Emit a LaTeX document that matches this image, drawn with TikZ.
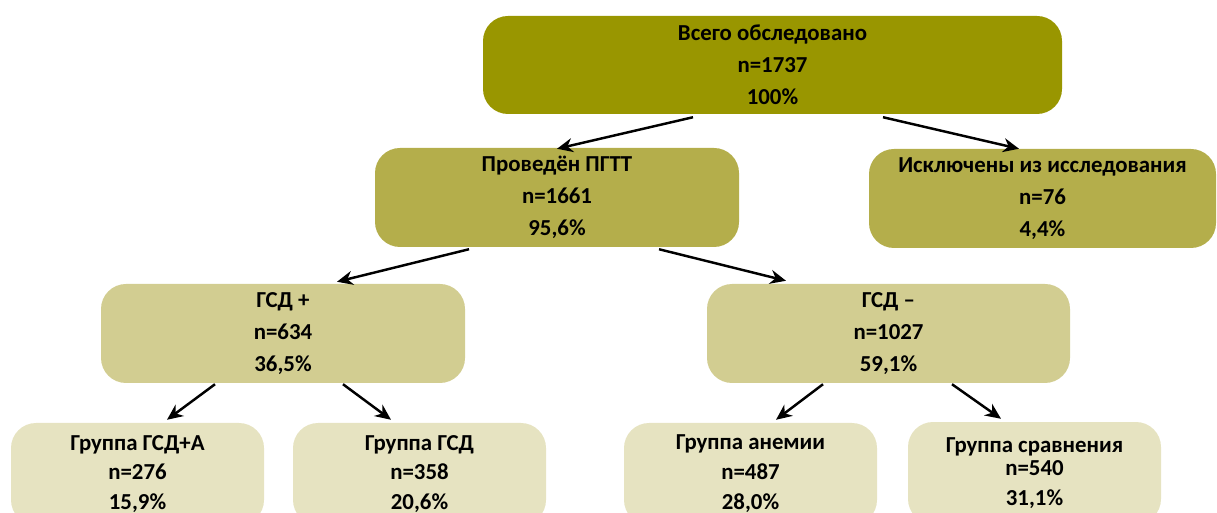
\documentclass[tikz,border=0pt]{standalone}
\usepackage{fontspec}
\setmainfont{Carlito}
\usetikzlibrary{arrows.meta}

\definecolor{oliveA}{RGB}{153,150,0}
\definecolor{oliveB}{RGB}{180,174,75}
\definecolor{oliveC}{RGB}{210,205,145}
\definecolor{oliveD}{RGB}{230,227,193}

\tikzset{
  box/.style={rounded corners=0.5cm,align=center,inner sep=0pt,
    font=\bfseries\fontsize{13}{18.2}\selectfont},
  boxa/.style={box,fill=oliveA,minimum width=11.58cm,minimum height=1.96cm},
  boxb/.style={box,fill=oliveB,minimum width=7.28cm,minimum height=1.98cm},
  boxc/.style={box,fill=oliveC,minimum width=7.28cm,minimum height=1.98cm},
  boxd/.style={box,fill=oliveD,minimum width=5.06cm,minimum height=2.04cm,
    font=\bfseries\fontsize{13}{17}\selectfont},
}

\begin{document}
\begin{tikzpicture}[>={Stealth[length=9pt,width=8pt]},line width=1.4pt]

\useasboundingbox (0,0) rectangle (24.34,-10.26);
\clip (0,0) rectangle (24.34,-10.26);

\node[boxa] (all) at (15.45,-1.3) {Всего обследовано\\n=1737\\100\%};

\node[boxb] (pgtt) at (11.14,-3.95) {Проведён ПГТТ\\n=1661\\95,6\%};
\node[boxb,minimum width=6.94cm] (excl) at (20.85,-3.97) {Исключены из исследования\\n=76\\4,4\%};

\node[boxc] (gsdp) at (5.66,-6.67) {ГСД +\\n=634\\36,5\%};
\node[boxc,minimum width=7.26cm] (gsdm) at (17.77,-6.67) {ГСД –\\n=1027\\59,1\%};

\node[boxd] (ga) at (2.75,-9.48) {Группа ГСД+А\\n=276\\15,9\%};
\node[boxd] (gg) at (8.39,-9.48) {Группа ГСД\\n=358\\20,6\%};
\node[boxd] (an) at (15.01,-9.48) {Группа анемии\\n=487\\28,0\%};
\node[boxd] (cmp) at (20.69,-9.46) {Группа сравнения\\[-3.5pt]n=540\\31,1\%};

\draw[->] ([xshift=-1.59cm,yshift=-0.04cm]all.south) -- ([yshift=-0.04cm]pgtt.north);
\draw[->] ([xshift=2.21cm,yshift=-0.04cm]all.south) -- ([xshift=-0.47cm,yshift=-0.02cm]excl.north);

\draw[->] ([xshift=-1.76cm,yshift=-0.02cm]pgtt.south) -- ([xshift=1.08cm,yshift=0.02cm]gsdp.north);
\draw[->] ([xshift=2.04cm,yshift=-0.02cm]pgtt.south) -- ([xshift=-2.05cm,yshift=0.04cm]gsdm.north);

\draw[->] ([xshift=-1.36cm]gsdp.south) -- ([xshift=0.59cm,yshift=0.04cm]ga.north);
\draw[->] ([xshift=1.2cm]gsdp.south) -- ([xshift=-0.57cm,yshift=0.04cm]gg.north);

\draw[->] ([xshift=-1.31cm]gsdm.south) -- ([xshift=0.51cm,yshift=0.04cm]an.north);
\draw[->] ([xshift=1.27cm]gsdm.south) -- ([xshift=-0.67cm,yshift=0.04cm]cmp.north);

\end{tikzpicture}
\end{document}
